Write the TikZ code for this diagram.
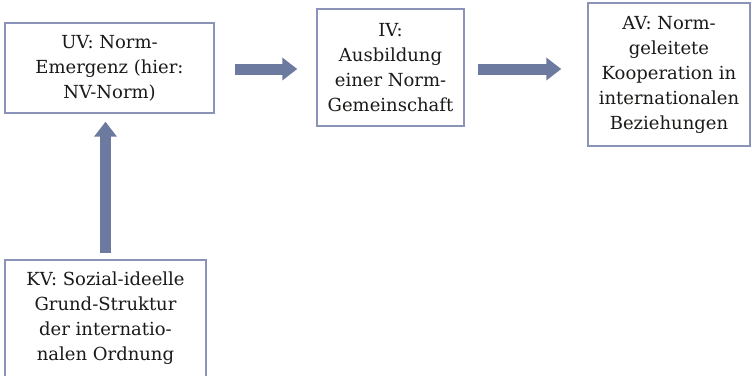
\documentclass[tikz,border=0pt]{standalone}
\usepackage{fontspec}
\setmainfont{DejaVu Serif}
\usetikzlibrary{arrows.meta}
\definecolor{boxline}{HTML}{8C93B8}
\definecolor{arrowfill}{HTML}{6D7AA0}
\definecolor{txt}{HTML}{1C1A18}
\tikzset{
  varbox/.style={draw=boxline, line width=1.1pt, fill=white, align=center,
    text=txt, inner sep=0pt, font=\fontsize{13.5}{18.75}\selectfont},
  bigarrow/.style={draw=arrowfill, line width=11*0.75pt,
    -{Triangle[width=22*0.75pt, length=15*0.75pt]}}
}
\begin{document}
\begin{tikzpicture}[x=0.75pt, y=-0.75pt]
\useasboundingbox (0,0) rectangle (752,375);
\node[varbox, minimum width=209*0.75pt, minimum height=90*0.75pt] (UV) at (109.5,68)
  {UV: Norm-\\Emergenz (hier:\\NV-Norm)};
\node[varbox, minimum width=147*0.75pt, minimum height=117*0.75pt] (IV) at (390.5,67.5)
  {IV:\\Ausbildung\\einer Norm-\\Gemeinschaft};
\node[varbox, minimum width=162*0.75pt, minimum height=143*0.75pt] (AV) at (669,74.5)
  {AV: Norm-\\geleitete\\Kooperation in\\internationalen\\Beziehungen};
\node[varbox, minimum width=201*0.75pt, minimum height=117*0.75pt] (KV) at (105.5,318.5)
  {KV: Sozial-ideelle\\Grund-Struktur\\der internatio-\\nalen Ordnung};
\draw[bigarrow, shorten <=20*0.75pt, shorten >=19*0.75pt]
  ([yshift=-1*0.75pt]UV.east) -- ([yshift=-1*0.75pt]UV.east -| IV.west);
\draw[bigarrow, shorten <=13*0.75pt, shorten >=26*0.75pt]
  ([yshift=-1.5*0.75pt]IV.east) -- ([yshift=-1.5*0.75pt]IV.east -| AV.west);
\draw[bigarrow, shorten <=6*0.75pt, shorten >=8*0.75pt]
  (KV.north) -- (KV.north |- UV.south);
\end{tikzpicture}
\end{document}
